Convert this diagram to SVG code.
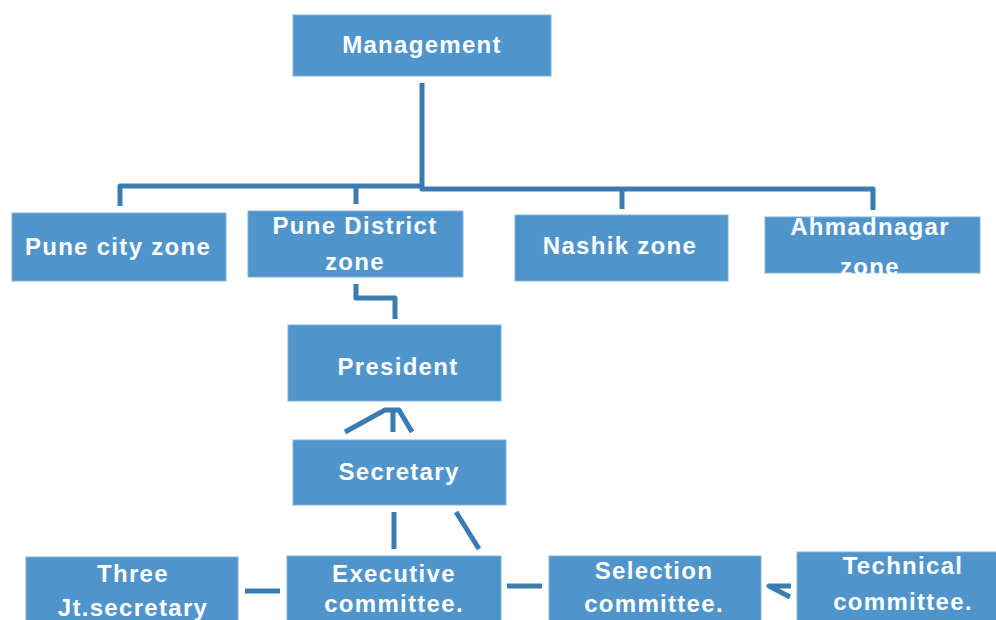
<svg xmlns="http://www.w3.org/2000/svg" width="996" height="620" viewBox="0 0 996 620">
<style>
.box{fill:#4F95CB;stroke:#7FB2DC;stroke-width:1}
.t{font-family:"Liberation Sans",Arial,sans-serif;font-weight:bold;font-size:24px;fill:#FFFFFF;text-anchor:middle;letter-spacing:1.3px}
.c{fill:none;stroke:#3A7CB2;stroke-width:5;stroke-linejoin:round}
</style>
<rect width="996" height="620" fill="#FFFFFF"/>
<g id="connectors">
<polyline class="c" points="422,83 422,189 873,189 873,210"/>
<polyline class="c" points="120,206 120,186 422,186"/>
<line class="c" x1="356" y1="186" x2="356" y2="204"/>
<line class="c" x1="622" y1="189" x2="622" y2="209"/>
<polyline class="c" points="356,284 356,298 395,298 395,319"/>
<polyline class="c" points="345,432 385,410 399,410 412,432"/>
<line class="c" x1="393" y1="410" x2="393" y2="432"/>
<line class="c" x1="394" y1="512" x2="394" y2="549"/>
<line class="c" x1="456" y1="512" x2="479" y2="549"/>
<line class="c" x1="245" y1="591" x2="280" y2="591"/>
<line class="c" x1="507" y1="586" x2="542" y2="586"/>
<polyline class="c" points="791,586 769,586 790,597"/>
</g>
<g id="management"><rect class="box" x="293" y="15" width="258" height="61"/><text class="t" x="422" y="53" letter-spacing="2.5">Management</text></g>
<g id="pune-city"><rect class="box" x="12" y="213" width="214" height="68"/><text class="t" x="118" y="255">Pune city zone</text></g>
<g id="pune-district"><rect class="box" x="248" y="211" width="215" height="66"/><text class="t" x="355" y="234">Pune District</text><text class="t" x="355" y="270">zone</text></g>
<g id="nashik"><rect class="box" x="515" y="215" width="213" height="66"/><text class="t" x="620" y="254">Nashik zone</text></g>
<g id="ahmadnagar"><rect class="box" x="765" y="217" width="215" height="56"/><text class="t" x="870" y="235">Ahmadnagar</text><text class="t" x="870" y="275">zone</text></g>
<g id="president"><rect class="box" x="288" y="325" width="213" height="76"/><text class="t" x="398" y="375">President</text></g>
<g id="secretary"><rect class="box" x="293" y="440" width="213" height="65"/><text class="t" x="399" y="480">Secretary</text></g>
<g id="three-jt"><rect class="box" x="26" y="557" width="212" height="70"/><text class="t" x="133" y="582">Three</text><text class="t" x="133" y="616">Jt.secretary</text></g>
<g id="executive"><rect class="box" x="287" y="556" width="214" height="70"/><text class="t" x="394" y="582">Executive</text><text class="t" x="394" y="612">committee.</text></g>
<g id="selection"><rect class="box" x="549" y="556" width="212" height="70"/><text class="t" x="654" y="579">Selection</text><text class="t" x="654" y="612">committee.</text></g>
<g id="technical"><rect class="box" x="797" y="552" width="205" height="74"/><text class="t" x="903" y="574">Technical</text><text class="t" x="903" y="610">committee.</text></g>
</svg>
